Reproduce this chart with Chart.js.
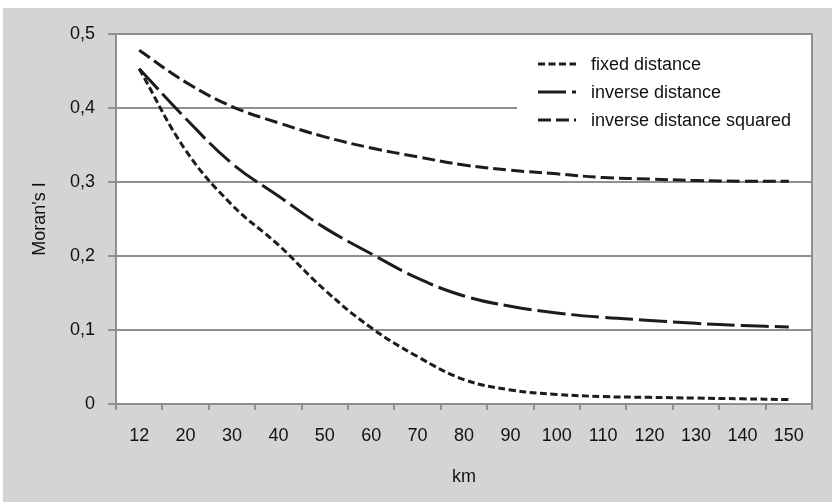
<!DOCTYPE html>
<html>
<head>
<meta charset="utf-8">
<script src="https://cdn.jsdelivr.net/npm/chart.js@4/dist/chart.umd.min.js"></script>
<style>
  html, body { margin: 0; padding: 0; background: #ffffff; }
  #wrap { position: absolute; left: 3px; top: 8px; width: 829px; height: 494px; background: #d3d4d6; }
</style>
</head>
<body>
<div id="wrap"><canvas id="moranChart" width="829" height="494"></canvas></div>
<script>
// distance bands (km)
const distances = ["12", "20", "30", "40", "50", "60", "70", "80", "90", "100", "110", "120", "130", "140", "150"];

// Moran's I per weighting scheme
const fixedDistance = [0.453, 0.343, 0.269, 0.215, 0.154, 0.103, 0.064, 0.033, 0.019, 0.013, 0.010, 0.009, 0.008, 0.007, 0.006];
const inverseDistance = [0.453, 0.386, 0.325, 0.281, 0.238, 0.203, 0.170, 0.146, 0.132, 0.123, 0.117, 0.113, 0.109, 0.106, 0.104];
const inverseDistanceSquared = [0.478, 0.435, 0.402, 0.380, 0.361, 0.346, 0.334, 0.323, 0.316, 0.311, 0.306, 0.304, 0.302, 0.301, 0.301];

const yTicks = [0, 0.1, 0.2, 0.3, 0.4, 0.5];

const lineColor = "#1c1c1c";
const gridColor = "#8f8f8f";
const textColor = "#111111";
const fontFamily = "'Liberation Sans', Arial, sans-serif";
const fontSize = 18;

function formatComma(v) {
    if (v === 0) return "0";
    return v.toFixed(1).replace(".", ",");
}

// white plot background + grey frame
const plotFrame = {
    id: "plotFrame",
    beforeDraw(chart) {
        const { ctx, chartArea: a } = chart;
        ctx.save();
        ctx.fillStyle = "#ffffff";
        ctx.fillRect(a.left, a.top, a.right - a.left, a.bottom - a.top);
        ctx.restore();
    },
    afterDraw(chart) {
        const { ctx, chartArea: a } = chart;
        ctx.save();
        ctx.strokeStyle = gridColor;
        ctx.lineWidth = 2;
        ctx.strokeRect(a.left, a.top, a.right - a.left, a.bottom - a.top);
        ctx.restore();
    }
};

// legend box inside the plot, top right
const cornerLegend = {
    id: "cornerLegend",
    afterDraw(chart) {
        const { ctx, chartArea: a } = chart;
        const boxLeft = 514;
        ctx.save();
        ctx.fillStyle = "#ffffff";
        ctx.fillRect(boxLeft, a.top + 1, a.right - boxLeft - 1, 100);
        ctx.font = fontSize + "px " + fontFamily;
        ctx.textBaseline = "middle";
        chart.data.datasets.forEach((ds, i) => {
            const y = 56 + i * 28;
            ctx.strokeStyle = ds.borderColor;
            ctx.lineWidth = ds.borderWidth;
            ctx.setLineDash(ds.borderDash);
            ctx.beginPath();
            ctx.moveTo(535, y);
            ctx.lineTo(573, y);
            ctx.stroke();
            ctx.setLineDash([]);
            ctx.fillStyle = textColor;
            ctx.fillText(ds.label, 588, y + 1);
        });
        ctx.restore();
    }
};

const ctx = document.getElementById("moranChart").getContext("2d");

new Chart(ctx, {
    type: "line",
    data: {
        labels: distances,
        datasets: [
            {
                label: "fixed distance",
                data: fixedDistance,
                borderColor: lineColor,
                borderWidth: 3,
                borderDash: [7, 3.5],
                pointRadius: 0,
                tension: 0.4,
                fill: false
            },
            {
                label: "inverse distance",
                data: inverseDistance,
                borderColor: lineColor,
                borderWidth: 3,
                borderDash: [28, 6],
                pointRadius: 0,
                tension: 0.4,
                fill: false
            },
            {
                label: "inverse distance squared",
                data: inverseDistanceSquared,
                borderColor: lineColor,
                borderWidth: 3,
                borderDash: [13, 5],
                pointRadius: 0,
                tension: 0.4,
                fill: false
            }
        ]
    },
    options: {
        responsive: false,
        animation: false,
        layout: { padding: { top: 26, right: 20, left: 0, bottom: 0 } },
        plugins: {
            legend: { display: false },
            tooltip: { enabled: false }
        },
        scales: {
            x: {
                offset: true,
                grid: {
                    offset: true,
                    drawOnChartArea: false,
                    drawTicks: true,
                    tickLength: 6,
                    tickColor: gridColor,
                    lineWidth: 2
                },
                border: { display: true, color: gridColor, width: 2 },
                ticks: {
                    color: textColor,
                    font: { family: fontFamily, size: fontSize },
                    padding: 15,
                    maxRotation: 0,
                    autoSkip: false
                },
                title: {
                    display: true,
                    text: "km",
                    color: textColor,
                    font: { family: fontFamily, size: fontSize },
                    padding: { top: 0, bottom: 14 }
                },
                afterFit(scale) { scale.height = 98; }
            },
            y: {
                min: 0,
                max: 0.5,
                afterBuildTicks(scale) {
                    scale.ticks = yTicks.map(v => ({ value: v }));
                },
                grid: {
                    color: gridColor,
                    lineWidth: 2,
                    drawTicks: true,
                    tickLength: 8,
                    tickColor: gridColor
                },
                border: { display: true, color: gridColor, width: 2 },
                ticks: {
                    color: textColor,
                    font: { family: fontFamily, size: fontSize },
                    padding: 13,
                    callback: v => formatComma(v)
                },
                title: {
                    display: true,
                    text: "Moran's I",
                    color: textColor,
                    font: { family: fontFamily, size: fontSize },
                    padding: { top: 26, bottom: 0 }
                },
                afterFit(scale) { scale.width = 113; }
            }
        }
    },
    plugins: [plotFrame, cornerLegend]
});
</script>
</body>
</html>
